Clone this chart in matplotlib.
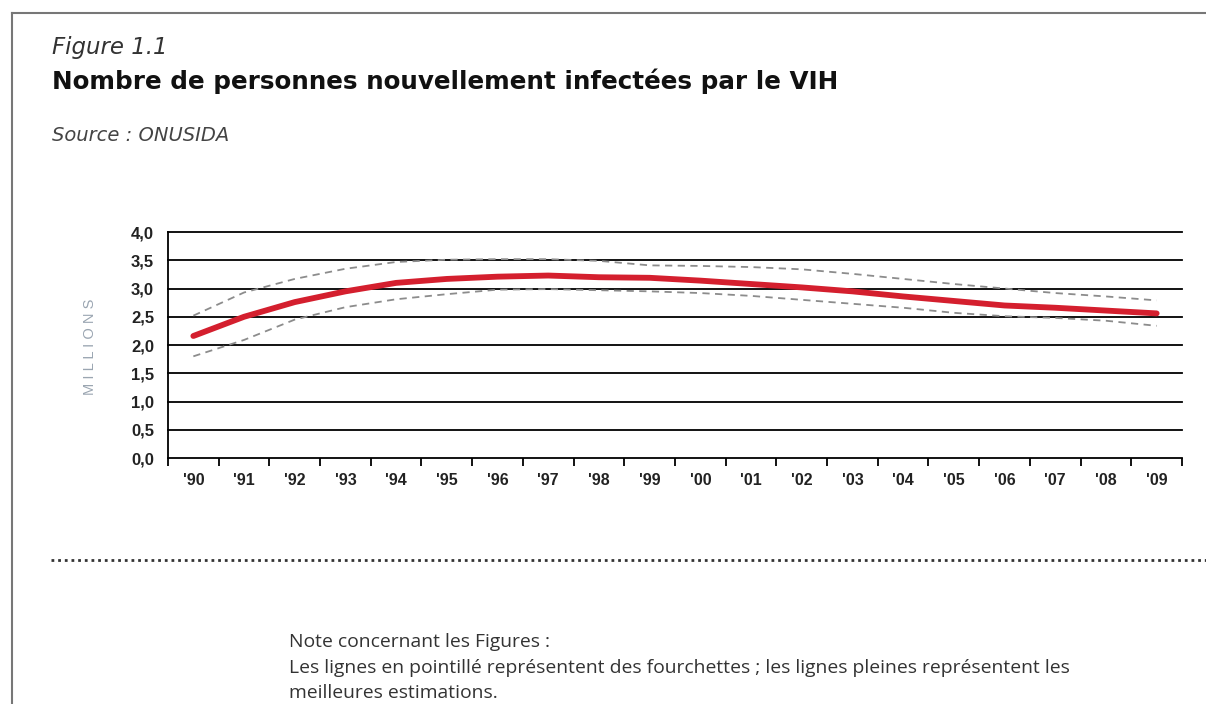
import matplotlib
matplotlib.use("Agg")
import matplotlib.pyplot as plt
import numpy as np
from matplotlib.lines import Line2D

# data (millions)
years = ["'90", "'91", "'92", "'93", "'94", "'95", "'96", "'97", "'98", "'99",
         "'00", "'01", "'02", "'03", "'04", "'05", "'06", "'07", "'08", "'09"]
best = [2.16, 2.50, 2.76, 2.95, 3.10, 3.17, 3.21, 3.23, 3.20, 3.19,
        3.14, 3.08, 3.02, 2.95, 2.86, 2.78, 2.70, 2.66, 2.61, 2.56]
upper = [2.52, 2.93, 3.17, 3.35, 3.47, 3.51, 3.52, 3.52, 3.49, 3.41,
         3.40, 3.38, 3.34, 3.26, 3.17, 3.08, 3.00, 2.92, 2.86, 2.79]
lower = [1.80, 2.09, 2.45, 2.67, 2.81, 2.90, 2.98, 2.99, 2.97, 2.95,
         2.92, 2.87, 2.80, 2.73, 2.66, 2.57, 2.51, 2.48, 2.43, 2.34]
yticks = [0.0, 0.5, 1.0, 1.5, 2.0, 2.5, 3.0, 3.5, 4.0]

plt.rcParams['font.family'] = ['Liberation Sans', 'DejaVu Sans']

fig = plt.figure(figsize=(12.06, 7.04), dpi=100)
ax = fig.add_axes([0.1393, 0.3494, 0.8408, 0.3210])

x = np.arange(len(years))
ax.plot(x, upper, color='#8c8c8c', lw=1.3, ls=(0, (4, 3)), zorder=3)
ax.plot(x, lower, color='#8c8c8c', lw=1.3, ls=(0, (4, 3)), zorder=3)
ax.plot(x, best, color='#d41f2e', lw=4.2, solid_capstyle='round', zorder=4)

ax.set_xlim(-0.5, len(years) - 0.5)
ax.set_ylim(0, 4.0)
for v in yticks[1:]:
    ax.axhline(v, color='black', lw=1.3, zorder=1, clip_on=False)

ax.set_yticks(yticks)
ax.set_yticklabels([f"{v:.1f}".replace('.', ',') for v in yticks],
                   fontsize=12, fontweight='bold', color='#222222')
ax.tick_params(axis='y', length=0, pad=10)

ax.set_xticks(np.arange(-0.5, len(years), 1.0))
ax.set_xticklabels([])
ax.set_xticks(x, minor=True)
ax.set_xticklabels(years, minor=True, fontsize=11.5, fontweight='bold', color='#222222')
ax.tick_params(axis='x', which='major', length=6, width=1.3, direction='out')
ax.tick_params(axis='x', which='minor', length=0, pad=11)

for s in ['top', 'right']:
    ax.spines[s].set_visible(False)
ax.spines['left'].set_linewidth(1.3)
ax.spines['bottom'].set_linewidth(1.3)

fig.text(0.075, 0.508, "M I L L I O N S", rotation=90, ha='center', va='center',
         fontsize=10.5, color='#9aa5b1')

# header texts
fig.text(0.043, 0.933, "Figure 1.1", fontsize=16.5, style='italic', color='#333333',
         family=['DejaVu Sans'], ha='left', va='center')
fig.text(0.043, 0.884, "Nombre de personnes nouvellement infectées par le VIH",
         fontsize=17.7, fontweight='bold', color='#111111', ha='left', va='center',
         family=['DejaVu Sans'])
fig.text(0.043, 0.808, "Source : ONUSIDA", fontsize=14, style='italic',
         family=['DejaVu Sans'], color='#444444', ha='left', va='center')

# frame and separator
fig.add_artist(Line2D([0.010, 1.0], [0.981, 0.981], color='#777777', lw=1.5))
fig.add_artist(Line2D([0.010, 0.010], [0.0, 0.981], color='#777777', lw=1.5))
fig.add_artist(Line2D([0.042, 1.0], [0.205, 0.205], color='#333333', lw=2,
                      ls=(0, (1, 1.4))))

# note
note_font = ['Open Sans', 'DejaVu Sans']
fig.text(0.240, 0.088, "Note concernant les Figures :", fontsize=13.9,
         family=note_font, color='#333333', ha='left', va='center')
fig.text(0.240, 0.051,
         "Les lignes en pointillé représentent des fourchettes ; les lignes pleines représentent les",
         fontsize=13.9, family=note_font, color='#333333', ha='left', va='center')
fig.text(0.240, 0.016, "meilleures estimations.", fontsize=13.9,
         family=note_font, color='#333333', ha='left', va='center')

fig.savefig("out.png", dpi=100)
